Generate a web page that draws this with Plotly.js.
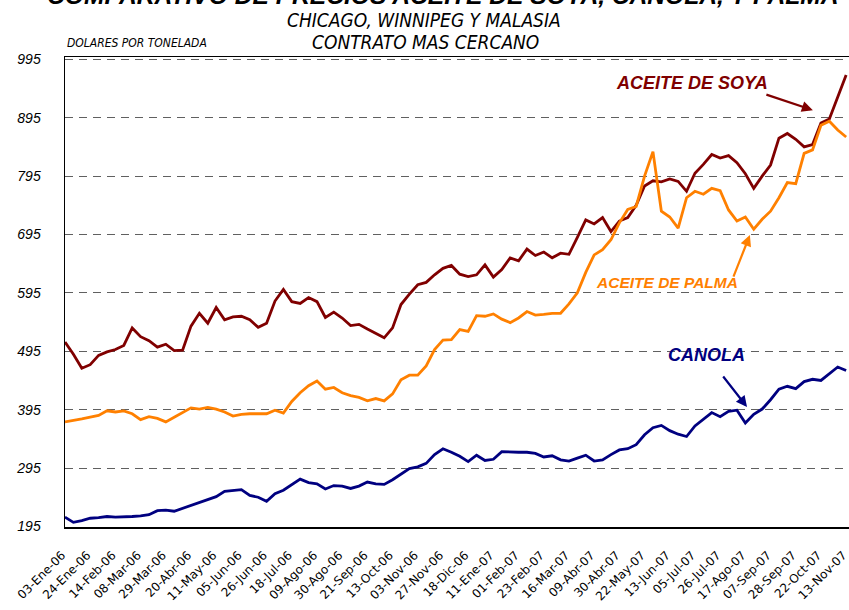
<!DOCTYPE html>
<html>
<head>
<meta charset="utf-8">
<script src="https://cdn.plot.ly/plotly-3.0.1.min.js"></script>
<style>html,body{margin:0;padding:0;background:#fff;}#chart{width:849px;height:610px;}</style>
</head>
<body>
<div id="chart"></div>
<script>
// Tick labels on the x axis (one every 15 trading days)
const dateLabels = ["03-Ene-06","24-Ene-06","14-Feb-06","08-Mar-06","29-Mar-06","20-Abr-06","11-May-06","05-Jun-06","26-Jun-06","18-Jul-06","09-Ago-06","30-Ago-06","21-Sep-06","13-Oct-06","03-Nov-06","27-Nov-06","18-Dic-06","11-Ene-07","01-Feb-07","23-Feb-07","16-Mar-07","09-Abr-07","30-Abr-07","22-May-07","13-Jun-07","05-Jul-07","26-Jul-07","17-Ago-07","07-Sep-07","28-Sep-07","22-Oct-07","13-Nov-07"];
const labelStep = 15;   // trading days between labels
const sampleStep = 5;   // trading days between readings below

// Prices (USD per tonne), read every 5 trading days
const soya = [511,490,466,472,488,494,498,505,535,520,513,502,507,496,497,538,560,543,570,549,554,555,549,536,543,581,601,580,577,587,580,553,562,552,539,541,533,526,518,535,575,593,609,613,626,637,642,627,623,626,643,622,635,655,650,670,659,665,655,663,661,690,720,713,724,700,718,724,745,778,787,785,790,786,769,800,815,832,826,830,818,799,774,795,814,860,868,858,845,849,886,893,930,968];
const palma = [374,376,379,382,385,393,391,393,388,378,383,380,374,382,390,398,396,399,396,391,384,387,388,388,388,394,389,409,424,436,444,430,433,424,419,416,410,414,410,422,446,454,454,470,498,514,515,532,529,556,555,559,550,544,552,563,557,558,560,560,576,595,630,660,669,686,715,738,743,795,837,735,725,706,758,769,764,774,770,737,718,725,704,721,735,758,784,782,834,840,882,889,874,862];
const canola = [211,202,205,209,210,212,211,211,212,213,215,222,223,221,226,232,236,241,246,255,257,258,248,245,238,251,257,266,276,270,268,259,265,264,260,264,271,268,267,275,285,294,297,303,318,328,322,315,306,317,308,310,323,322,322,322,320,314,316,309,307,312,317,307,309,318,326,328,335,352,364,368,359,353,349,367,379,390,383,392,394,372,387,396,412,430,435,431,443,447,445,456,468,462];

const seriesNames = ["ACEITE DE SOYA","ACEITE DE PALMA","CANOLA"];
const seriesColors = ["#800000","#FF8000","#000080"];
const yTicks = [195,295,395,495,595,695,795,895,995];

const xs = arr => arr.map((_, i) => i * sampleStep);
const traces = [soya, palma, canola].map((vals, k) => ({
  x: xs(vals), y: vals, type: "scatter", mode: "lines", name: seriesNames[k],
  line: {color: seriesColors[k], width: 2.8}, hoverinfo: "skip"
}));

const boldIt = t => "<b><i>" + t + "</i></b>";
const narrow = "Liberation Sans Narrow, Arial Narrow, DejaVu Sans Condensed, sans-serif";
const arial = "Liberation Sans, Arial, sans-serif";

const layout = {
  width: 849, height: 610,
  margin: {l: 65, r: 0, t: 57, b: 83},
  paper_bgcolor: "#fff", plot_bgcolor: "#fff",
  showlegend: false,
  xaxis: {
    type: "linear", range: [0, 466.7],
    tickvals: dateLabels.map((_, i) => i * labelStep), ticktext: dateLabels,
    tickangle: -45, tickfont: {family: "DejaVu Sans, Verdana, sans-serif", size: 12, color: "#000"},
    ticks: "outside", ticklen: 15, tickcolor: "rgba(0,0,0,0)",
    ticklabelshift: -3, ticklabeloverflow: "allow",
    showgrid: false, zeroline: false,
    showline: true, linecolor: "#000", linewidth: 1.5, mirror: true
  },
  yaxis: {
    range: [194, 999], tickvals: yTicks, ticktext: yTicks.map(String),
    tickfont: {family: arial, size: 14, color: "#000", style: "italic"},
    ticks: "outside", ticklen: 20, tickcolor: "rgba(0,0,0,0)",
    showgrid: true, gridcolor: "#606060", gridwidth: 1, griddash: "8px,6px",
    zeroline: false, showline: true, linecolor: "#000", linewidth: 1.5, mirror: false
  },
  annotations: [
    {text: boldIt("COMPARATIVO DE PRECIOS ACEITE DE SOYA, CANOLA, Y PALMA"), xref: "paper", yref: "paper",
     x: 0.482, y: 1.131, xanchor: "center", yanchor: "middle", showarrow: false,
     font: {family: arial, size: 24.6, color: "#000"}},
    {text: "<i>CHICAGO, WINNIPEG Y MALASIA</i>", xref: "paper", yref: "paper",
     x: 0.458, y: 1.0787, xanchor: "center", yanchor: "middle", showarrow: false,
     font: {family: narrow, size: 19, color: "#000"}},
    {text: "<i>CONTRATO MAS CERCANO</i>", xref: "paper", yref: "paper",
     x: 0.46, y: 1.0319, xanchor: "center", yanchor: "middle", showarrow: false,
     font: {family: narrow, size: 19, color: "#000"}},
    {text: "<i>DOLARES POR TONELADA</i>", xref: "paper", yref: "paper",
     x: 0.0, y: 1.0298, xanchor: "left", yanchor: "middle", showarrow: false,
     font: {family: narrow, size: 12, color: "#000"}},
    // series labels
    {text: boldIt(seriesNames[0]), x: 373, y: 954, xref: "x", yref: "y", showarrow: false,
     font: {family: arial, size: 18, color: seriesColors[0]}},
    {text: "", x: 445.2, y: 908, xref: "x", yref: "y", ax: -48, ay: -16, showarrow: true,
     arrowhead: 2, arrowsize: 1, arrowwidth: 2.2, arrowcolor: seriesColors[0]},
    {text: boldIt(seriesNames[1]), x: 358.3, y: 612, xref: "x", yref: "y", showarrow: false,
     font: {family: arial, size: 15.5, color: seriesColors[1]}},
    {text: "", x: 407.7, y: 694, xref: "x", yref: "y", ax: -17, ay: 43, showarrow: true,
     arrowhead: 2, arrowsize: 1, arrowwidth: 2.2, arrowcolor: seriesColors[1]},
    {text: boldIt(seriesNames[2]), x: 382, y: 488.6, xref: "x", yref: "y", showarrow: false,
     font: {family: arial, size: 18, color: seriesColors[2]}},
    {text: "", x: 406, y: 399.6, xref: "x", yref: "y", ax: -25, ay: -32, showarrow: true,
     arrowhead: 2, arrowsize: 1, arrowwidth: 2.2, arrowcolor: seriesColors[2]}
  ]
};

Plotly.newPlot("chart", traces, layout, {displayModeBar: false, staticPlot: true});
</script>
</body>
</html>
